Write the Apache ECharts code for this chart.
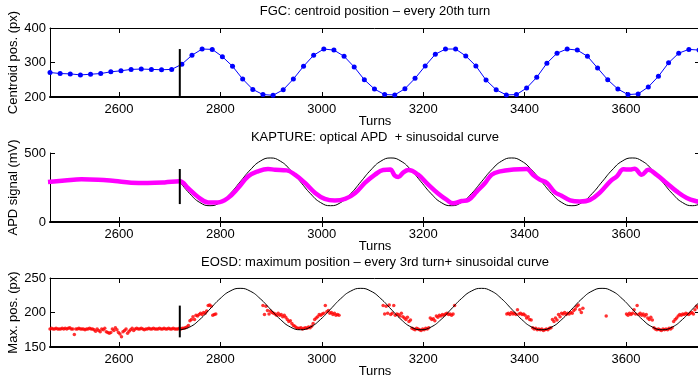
<!DOCTYPE html>
<html><head><meta charset="utf-8">
<script src="https://cdn.jsdelivr.net/npm/echarts@6/dist/echarts.min.js"></script>
<style>html,body{margin:0;padding:0;background:#fff}#c{width:698px;height:377px}</style>
</head><body><div id="c"></div>
<script>
// ---- data ----
const xTicks = [2600, 2800, 3000, 3200, 3400, 3600];
const turnMin = 2464, turnMax = 3746;
const titles = [
  'FGC: centroid position \u2013 every 20th turn',
  'KAPTURE: optical APD  + sinusoidal curve',
  'EOSD: maximum position \u2013 every 3rd turn+ sinusoidal curve'
];
const yNames = ['Centroid pos. (px)', 'APD signal (mV)', 'Max. pos. (px)'];
const xName = 'Turns';

// FGC centroid, every 20th turn starting at turn 2464
const fgcStart = 2464, fgcStep = 20;
const fgcValues = [271,268,267,264,266,268,273,276,280,281,280,279,280,295,321,339,338,317,289,252,
  222,207,205,221,252,289,321,339,336,318,287,250,223,207,206,224,254,290,324,339,
  339,319,290,249,221,206,207,226,257,298,327,339,336,318,284,250,223,207,209,229,
  260,299,327,338,336];

// KAPTURE APD signal
const apdTurns = [2460,2493,2526,2559,2592,2624,2657,2690,2720,2736,2756,2776,2795,2815,2835,2855,2874,2894,2908,2931,
  2947,2967,2987,3006,3026,3046,3066,3085,3105,3121,3135,3144,3151,3161,3171,3190,3210,3230,3246,3259,
  3276,3289,3306,3322,3335,3352,3378,3404,3417,3430,3444,3460,3473,3490,3509,3529,3549,3569,3582,3595,
  3608,3617,3631,3644,3660,3680,3700,3720,3739,3750];
const apdValues = [290,300,309,307,297,285,283,287,295,246,181,142,142,174,246,331,367,384,379,374,
  343,283,210,167,155,167,210,283,343,377,380,336,326,360,376,343,271,205,162,135,
  152,160,222,283,343,367,380,384,340,307,283,215,191,157,148,160,215,295,331,382,
  380,386,343,378,343,283,222,174,150,145];

// sinusoidal curves, sampled from turn 2720
const fitStart = 2720, fitStep = 19.83;
const apdFit = [291,205,141,118,141,205,291,377,441,464,441,377,
  291,205,141,118,141,205,291,377,441,464,441,377,
  291,205,141,118,141,205,291,377,441,464,441,377,
  291,205,141,118,141,205,291,377,441,464,441,377,
  291,205,141,118,141];
const eosdFit = [175,179,190,205,220,231,235,231,220,205,190,179,
  175,179,190,205,220,231,235,231,220,205,190,179,
  175,179,190,205,220,231,235,231,220,205,190,179,
  175,179,190,205,220,231,235,231,220,205,190,179,
  175,179,190,205,220];

// EOSD maximum position, every 3rd turn (segments where data exists)
const eosdStep = 3;
const eosdSegStarts = [2464, 2884, 3121, 3365, 3561, 3601];
const eosdSeg1 = [176,177,176,176,177,176,176,176,177,176,177,176,
  177,178,176,176,168,
  176,176,177,176,176,176,175,176,176,177,176,176,
  175,173,176,174,172,176,175,177,172,171,170,171,176,174,178,175,171,169,165,172,174,176,170,173,175,177,174,176,
  177,176,176,177,176,175,176,176,177,176,176,177,176,176,176,177,176,176,177,176,176,177,176,176,177,176,176,176,177,
  176,177,177,178,179,181,188,190,194,190,196,195,197,199,197,200,199,202,210,211,209,196,197,198];
const eosdSeg2 = [210,197,209,203,198,202,200,199,198,196,199,196,197,194,196,193,190,187,188,184,
  181,180,178,177,177,178,176,177,178,177,179,178,180,184,190,192,194,197,196,198,
  199,210,201,203,199,200,197,199,196,197,196];
const eosdSeg3 = [210,198,209,199,211,197,199,210,196,198,197,195,199,194,192,190,193,187,189,177,
  176,175,177,176,175,174,176,175,177,176,178,192,190,191,188,195,193,196,195,197,
  196,198,199,197,198,196,198,210];
const eosdSeg4 = [198,199,197,200,198,199,197,204,198,199,197,198,196,192,194,190,189,178,176,177,
  175,176,175,176,174,175,176,175,177,178,190,187,192,189,197,194,199,198,200,197,
  199,198,200,199,203,205,209,211,204,200,206];
const eosdSeg5 = [195];
const eosdSeg6 = [198,196,199,197,199,204,198,210,197,199,196,198,195,197,192,190,193,189,178,176,
  175,176,175,174,176,175,176,175,177,176,178,187,190,192,195,197,196,198,197,199,
  198,197,199,200,198,204,209,207,211];

const markerTurn = 2720;
const markerTop = [339, 384, 210];
const markerBottom = [203, 130, 164];

const yRanges = [[200, 400, 100], [0, 500, 500], [150, 250, 50]];

// ---- build ----
const font = '"Liberation Sans", Arial, Helvetica, sans-serif';
const gridTops = [28, 153, 278];
const titleTops = [5, 131, 256];

const fgcData = fgcValues.map((v, i) => [fgcStart + fgcStep * i, v]);
const apdData = apdTurns.map((t, i) => [t, apdValues[i]]);
const apdFitData = apdFit.map((v, i) => [fitStart + fitStep * i, v]);
const eosdFitData = eosdFit.map((v, i) => [fitStart + fitStep * i, v]);
const eosdData = [];
[eosdSeg1, eosdSeg2, eosdSeg3, eosdSeg4, eosdSeg5, eosdSeg6].forEach((seg, s) => {
  seg.forEach((v, i) => eosdData.push([eosdSegStarts[s] + eosdStep * i, v]));
});

const grid = gridTops.map(t => ({left: 50, top: t, width: 650, height: 69,
  containLabel: false, outerBoundsMode: 'none'}));
const xAxis = [], yAxis = [];
const span = turnMax - turnMin;
for (let g = 0; g < 3; g++) {
  xAxis.push({
    type: 'value', gridIndex: g, position: 'bottom', min: turnMin, max: turnMax, interval: span,
    name: xName, nameLocation: 'middle', nameGap: 18, nameMoveOverlap: false,
    nameTextStyle: {color: '#000', fontSize: 13, fontFamily: font, verticalAlign: 'top'},
    axisLine: {show: true, lineStyle: {color: '#000', width: 2}},
    axisTick: {show: true, inside: true, length: 5, customValues: xTicks, lineStyle: {color: '#000', width: 1}},
    axisLabel: {show: true, customValues: xTicks, formatter: v => String(v), color: '#000', fontSize: 13, fontFamily: font, margin: 6},
    splitLine: {show: false}
  });
  xAxis.push({
    type: 'value', gridIndex: g, position: 'top', min: turnMin, max: turnMax, interval: span,
    axisLine: {show: true, lineStyle: {color: '#000', width: 1}},
    axisTick: {show: true, inside: true, length: 5, customValues: xTicks, lineStyle: {color: '#000', width: 1}},
    axisLabel: {show: false},
    splitLine: {show: false}
  });
  const [ymin, ymax, yint] = yRanges[g];
  yAxis.push({
    type: 'value', gridIndex: g, position: 'left', min: ymin, max: ymax, interval: yint,
    name: yNames[g], nameLocation: 'middle', nameGap: 30, nameMoveOverlap: false,
    nameTextStyle: {color: '#000', fontSize: 13, fontFamily: font},
    axisLine: {show: true, lineStyle: {color: '#000', width: 1}},
    axisTick: {show: true, inside: true, length: 5, lineStyle: {color: '#000', width: 1}},
    axisLabel: {color: '#000', fontSize: 13, fontFamily: font, margin: 4},
    splitLine: {show: false}
  });
  yAxis.push({
    type: 'value', gridIndex: g, position: 'right', min: ymin, max: ymax, interval: yint,
    axisLine: {show: true, lineStyle: {color: '#000', width: 1}},
    axisTick: {show: true, inside: true, length: 5, lineStyle: {color: '#000', width: 1}},
    axisLabel: {show: false},
    splitLine: {show: false}
  });
}

const series = [];
series.push({type: 'line', xAxisIndex: 0, yAxisIndex: 0, data: fgcData,
  symbol: 'circle', symbolSize: 5, showSymbol: true,
  itemStyle: {color: '#0000ff'}, lineStyle: {color: '#0000ff', width: 1}, z: 3});
series.push({type: 'line', xAxisIndex: 2, yAxisIndex: 2, data: apdFitData, smooth: true,
  showSymbol: false, lineStyle: {color: '#000', width: 1}, z: 2});
series.push({type: 'line', xAxisIndex: 2, yAxisIndex: 2, data: apdData, smooth: 0.4,
  showSymbol: false, lineStyle: {color: '#ff00ff', width: 4.5}, z: 3});
series.push({type: 'scatter', xAxisIndex: 4, yAxisIndex: 4, data: eosdData,
  symbolSize: 3.5, itemStyle: {color: '#ff0000'}, z: 2});
series.push({type: 'line', xAxisIndex: 4, yAxisIndex: 4, data: eosdFitData, smooth: true,
  showSymbol: false, lineStyle: {color: '#000', width: 1}, z: 3});
for (let g = 0; g < 3; g++) {
  series.push({type: 'line', xAxisIndex: 2 * g, yAxisIndex: 2 * g,
    data: [[markerTurn, markerTop[g]], [markerTurn, markerBottom[g]]],
    showSymbol: false, lineStyle: {color: '#000', width: 2}, z: 4});
}

const graphic = titles.map((t, i) => ({
  type: 'text', x: 375, y: titleTops[i],
  style: {text: t, fill: '#000', font: '13px ' + font, textAlign: 'center', textVerticalAlign: 'top'}
}));

const chart = echarts.init(document.getElementById('c'), null, {renderer: 'canvas'});
chart.setOption({
  animation: false,
  backgroundColor: '#fff',
  grid, xAxis, yAxis, series, graphic
});
</script>
</body></html>
